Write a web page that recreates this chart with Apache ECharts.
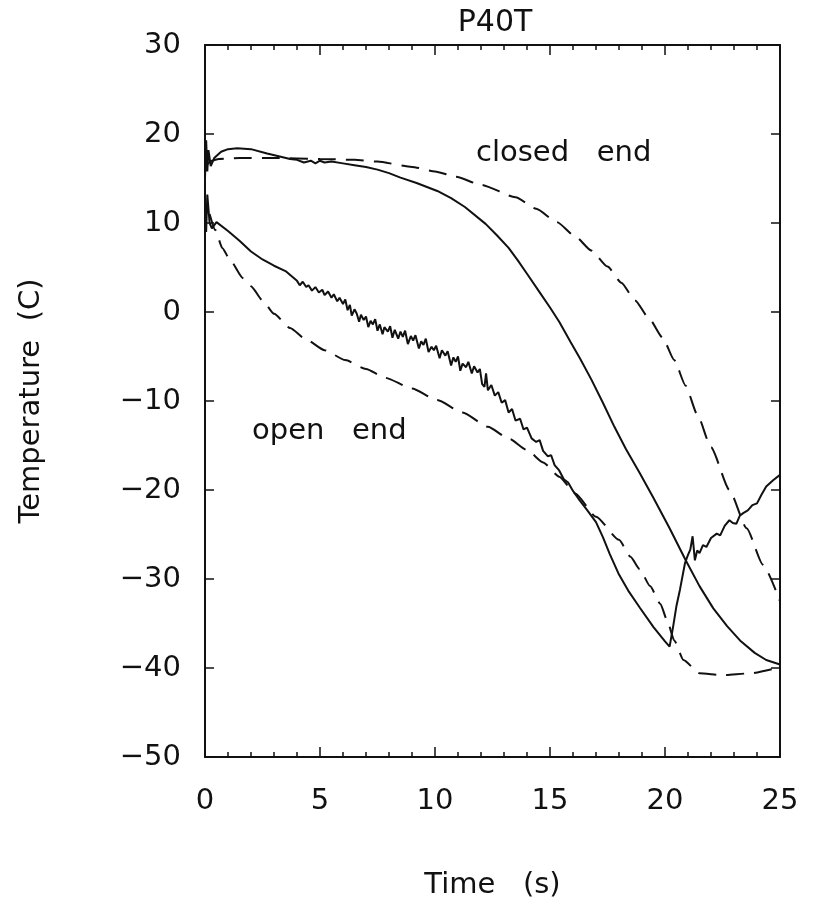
<!DOCTYPE html>
<html>
<head>
<meta charset="utf-8">
<title>P40T</title>
<script src="https://cdn.jsdelivr.net/npm/echarts@6/dist/echarts.min.js"></script>
<style>
  html, body { margin: 0; padding: 0; background: #fff; }
  #chart { width: 814px; height: 901px; }
</style>
</head>
<body>
<div id="chart"></div>
<script>
// Tick values for both axes
const xTicks = [0, 5, 10, 15, 20, 25];
const yTicks = [-50, -40, -30, -20, -10, 0, 10, 20, 30];

// Closed end, measured (solid): [time s, temperature C]
const closedSolid = [
  [0, 15.0], [0.05, 19.3], [0.1, 15.8], [0.15, 18.2], [0.25, 16.4], [0.4, 17.3],
  [0.7, 18.0], [1.0, 18.3], [1.4, 18.4], [2.0, 18.3], [2.7, 17.8], [3.2, 17.5],
  [3.7, 17.2], [4.0, 17.1], [4.3, 16.8], [4.6, 17.0], [4.8, 16.7], [5.0, 17.0],
  [5.2, 16.8], [5.5, 16.9], [6.0, 16.7], [6.5, 16.5], [7.0, 16.3], [7.5, 16.0],
  [8.0, 15.6], [8.5, 15.1], [9.2, 14.5], [10.1, 13.6], [10.7, 12.8], [11.3, 11.8],
  [12.2, 9.9], [12.7, 8.6], [13.2, 7.2], [13.6, 5.8], [14.0, 4.3], [14.5, 2.4],
  [15.0, 0.5], [15.4, -1.1], [15.9, -3.4], [16.3, -5.2], [16.8, -7.6], [17.3, -10.2],
  [17.8, -12.9], [18.3, -15.4], [18.9, -18.1], [19.5, -20.9], [20.2, -24.3],
  [20.9, -27.9], [21.5, -30.8], [22.1, -33.3], [22.7, -35.3], [23.3, -37.0],
  [23.9, -38.3], [24.4, -39.1], [25.0, -39.6]
];

// Closed end, computed (dashed)
const closedDashed = [
  [0.1, 16.6], [0.3, 17.0], [0.6, 17.2], [1.5, 17.3], [3.0, 17.3], [5.0, 17.2],
  [6.5, 17.1], [7.5, 16.9], [9.0, 16.3], [10.0, 15.8], [10.9, 15.2], [12.0, 14.3],
  [13.5, 12.9], [14.4, 11.6], [15.3, 10.1], [16.1, 8.5], [16.8, 6.9], [17.5, 5.1],
  [18.1, 3.3], [18.7, 1.3], [19.3, -0.7], [19.9, -2.9], [20.4, -5.4], [20.9, -8.3],
  [21.4, -11.5], [22.0, -15.2], [22.8, -20.0], [23.55, -24.3], [24.26, -28.4],
  [25.0, -32.5]
];

// Open end, measured (solid)
const openSolid = [
  [0, 12.0], [0.05, 9.0], [0.1, 13.2], [0.2, 10.0], [0.3, 9.4], [0.5, 10.1],
  [1.0, 9.1], [1.5, 8.0], [2.0, 6.8], [2.5, 5.9], [3.0, 5.2], [3.5, 4.6],
  [4.0, 3.5], [4.12, 3.0], [4.25, 3.4], [4.4, 2.8], [4.5, 3.0], [4.65, 2.4],
  [4.8, 2.8], [4.95, 2.2], [5.1, 2.5], [5.2, 1.9], [5.35, 2.3], [5.5, 1.6],
  [5.6, 2.0], [5.75, 1.2], [5.85, 1.6], [6.0, 0.9], [6.1, 1.4], [6.2, 0.2],
  [6.3, 0.8], [6.38, -0.4], [6.5, 0.3], [6.6, -0.2], [6.7, -1.1], [6.78, -0.3],
  [6.9, -0.9], [7.0, -0.5], [7.1, -1.7], [7.2, -1.0], [7.3, -1.4], [7.4, -0.8],
  [7.5, -2.1], [7.6, -1.4], [7.72, -2.5], [7.8, -1.7], [7.95, -2.2], [8.05, -1.6],
  [8.15, -2.9], [8.25, -2.0], [8.4, -3.0], [8.5, -2.2], [8.6, -2.8], [8.7, -2.1],
  [8.82, -3.6], [8.95, -2.7], [9.05, -3.2], [9.15, -2.6], [9.3, -4.1], [9.4, -3.3],
  [9.5, -3.7], [9.6, -3.0], [9.72, -4.5], [9.85, -3.9], [9.95, -4.3], [10.05, -3.8],
  [10.2, -5.2], [10.3, -4.3], [10.45, -4.9], [10.55, -4.4], [10.7, -6.0], [10.8, -5.1],
  [10.9, -5.6], [11.0, -5.0], [11.1, -6.6], [11.2, -5.8], [11.35, -6.2], [11.45, -5.6],
  [11.6, -6.9], [11.7, -6.1], [11.85, -6.8], [11.95, -6.4], [12.05, -8.1], [12.15, -8.4],
  [12.22, -6.9], [12.3, -8.8], [12.45, -8.2], [12.6, -9.4], [12.75, -9.0],
  [12.9, -10.2], [13.05, -9.9], [13.2, -11.3], [13.35, -10.9], [13.5, -12.2],
  [13.7, -12.0], [13.85, -13.2], [14.0, -13.0], [14.2, -14.2], [14.4, -14.6],
  [14.55, -14.4], [14.7, -15.6], [14.9, -16.2], [15.05, -16.1], [15.2, -17.2],
  [15.4, -17.8], [15.6, -18.8], [15.8, -19.2], [16.0, -20.1], [16.3, -21.2],
  [16.6, -22.2], [17.0, -23.6], [17.3, -25.3], [17.6, -27.2], [18.0, -29.5],
  [18.4, -31.3], [18.9, -33.2], [19.5, -35.4], [20.0, -37.0], [20.2, -37.6],
  [20.35, -35.4], [20.5, -33.0], [20.65, -31.2], [20.87, -28.2], [21.0, -27.3],
  [21.1, -26.7], [21.2, -25.2], [21.3, -27.9], [21.4, -26.8], [21.5, -27.1],
  [21.65, -26.2], [21.8, -26.4], [22.0, -25.4], [22.25, -24.9], [22.4, -25.1],
  [22.6, -24.0], [22.8, -23.4], [22.95, -23.7], [23.1, -23.8], [23.25, -22.9],
  [23.4, -22.6], [23.6, -22.3], [23.8, -21.7], [24.0, -21.5], [24.2, -20.5],
  [24.4, -19.6], [24.7, -18.9], [25.0, -18.3]
];

// Open end, computed (dashed)
const openDashed = [
  [0.2, 11.0], [0.45, 9.2], [0.75, 7.2], [1.1, 5.8], [1.65, 3.8], [2.0, 2.9],
  [2.5, 1.3], [3.0, -0.2], [3.7, -1.8], [4.4, -3.1], [5.2, -4.3], [6.1, -5.4],
  [7.0, -6.4], [7.85, -7.4], [9.0, -8.6], [10.1, -9.9], [11.2, -11.3], [12.3, -12.9],
  [13.2, -14.2], [14.0, -15.5], [14.7, -16.9], [15.4, -18.5], [16.1, -20.4],
  [17.0, -23.0], [18.0, -25.6], [18.5, -27.5], [18.9, -28.9], [19.35, -30.8],
  [19.8, -32.8], [20.1, -34.7], [20.4, -36.9], [20.8, -39.1], [21.5, -40.6],
  [22.5, -40.8], [23.7, -40.6], [25.0, -39.9]
];

const INK = '#111';
const FONT = 'DejaVu Sans';

const chart = echarts.init(document.getElementById('chart'), null, { renderer: 'canvas' });

function minusLabel(v) {
  return v < 0 ? '\u2212' + Math.abs(v) : String(v);
}

function solid(data) {
  return {
    type: 'line', data: data, showSymbol: false, symbol: 'none', clip: true,
    lineStyle: { color: INK, width: 2 }, xAxisIndex: 0, yAxisIndex: 0,
    animation: false
  };
}
function dashed(data) {
  return {
    type: 'line', data: data, showSymbol: false, symbol: 'none', clip: true,
    smooth: 0.2, smoothMonotone: 'x',
    lineStyle: { color: INK, width: 2, type: [18, 10] }, xAxisIndex: 0, yAxisIndex: 0,
    animation: false
  };
}

const baseX = {
  type: 'value',
  min: xTicks[0], max: xTicks[xTicks.length - 1],
  interval: xTicks[1] - xTicks[0],
  splitLine: { show: false },
  axisLine: { show: true, onZero: false, lineStyle: { color: INK, width: 2 } },
  axisTick: { show: true, inside: true, length: 10, lineStyle: { color: INK, width: 1.5 } },
  minorTick: { show: true, splitNumber: 5, length: 5, lineStyle: { color: INK, width: 1.5 } },
  minorSplitLine: { show: false }
};
const baseY = {
  type: 'value',
  min: yTicks[0], max: yTicks[yTicks.length - 1],
  interval: yTicks[1] - yTicks[0],
  splitLine: { show: false },
  axisLine: { show: true, onZero: false, lineStyle: { color: INK, width: 2 } },
  axisTick: { show: true, inside: true, length: 9, lineStyle: { color: INK, width: 1.5 } }
};

chart.setOption({
  backgroundColor: '#fff',
  animation: false,
  title: {
    text: 'P40T',
    left: 490, top: 3, textAlign: 'center',
    textStyle: { fontFamily: FONT, fontSize: 30, fontWeight: 'normal', color: INK }
  },
  grid: { left: 205, right: 34, top: 45, bottom: 144, containLabel: false, outerBoundsMode: 'none' },
  xAxis: [
    Object.assign({}, baseX, {
      position: 'bottom',
      name: 'Time   (s)', nameLocation: 'middle', nameGap: 114,
      nameTextStyle: { fontFamily: FONT, fontSize: 29, color: INK },
      axisLabel: { show: true, margin: 30, fontFamily: FONT, fontSize: 29, color: INK }
    }),
    Object.assign({}, baseX, { position: 'top', axisLabel: { show: false } })
  ],
  yAxis: [
    Object.assign({}, baseY, {
      position: 'left',
      name: 'Temperature  (C)', nameLocation: 'middle', nameGap: 159,
      nameTextStyle: { fontFamily: FONT, fontSize: 29, color: INK },
      axisLabel: { show: true, margin: 24, fontFamily: FONT, fontSize: 29, color: INK, formatter: minusLabel }
    }),
    Object.assign({}, baseY, { position: 'right', axisLabel: { show: false } })
  ],
  graphic: [
    { type: 'text', left: 476, top: 139, style: { text: 'closed   end', font: '29px "DejaVu Sans"', fill: INK } },
    { type: 'text', left: 252, top: 417, style: { text: 'open   end', font: '29px "DejaVu Sans"', fill: INK } }
  ],
  series: [
    Object.assign(solid(closedSolid), { name: 'closed end measured' }),
    Object.assign(dashed(closedDashed), { name: 'closed end computed' }),
    Object.assign(solid(openSolid), { name: 'open end measured' }),
    Object.assign(dashed(openDashed), { name: 'open end computed' })
  ]
});
</script>
</body>
</html>
